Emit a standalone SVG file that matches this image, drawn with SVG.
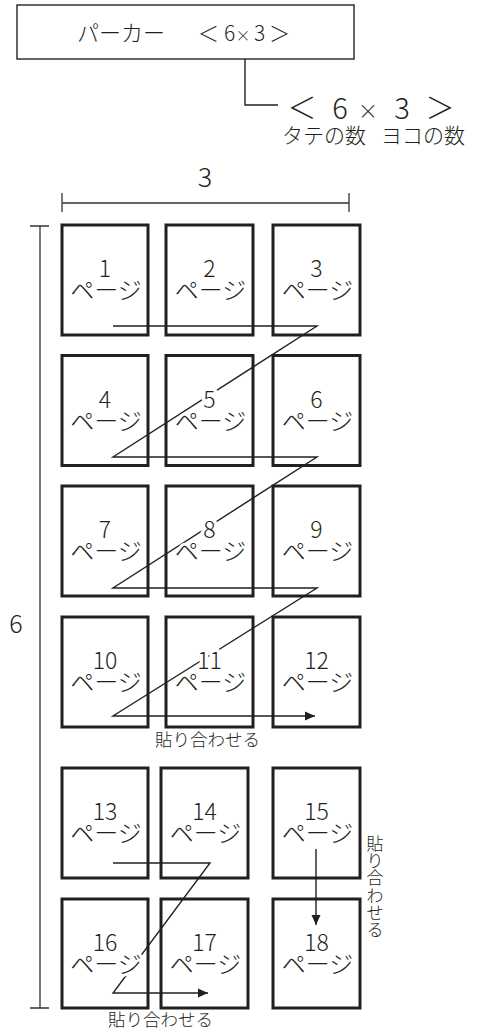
<svg xmlns="http://www.w3.org/2000/svg" width="483" height="1031" viewBox="0 0 483 1031">
<style>
.jp{font-family:"Noto Sans CJK JP","Noto Sans",sans-serif;fill:#231f20;font-weight:300}
.pg{fill:none;stroke:#231f20;stroke-width:3}
.ln{fill:none;stroke:#231f20;stroke-width:1.4}
.dim{fill:none;stroke:#333;stroke-width:1.3}
.lbl{text-anchor:middle;paint-order:stroke;stroke:#fff;stroke-linejoin:round}
.n{font-size:23px;stroke-width:7}
.p{font-size:24px;stroke-width:6}
.mid{text-anchor:middle}
</style>
<defs>
<marker id="ah" markerUnits="userSpaceOnUse" markerWidth="12" markerHeight="12" refX="10" refY="5" orient="auto">
<path d="M0,0.5 L10,5 L0,9.5 Z" fill="#231f20"/>
</marker>
</defs>
<g id="title">
<rect x="17" y="5" width="337" height="54" fill="none" stroke="#333" stroke-width="1.5"/>
<text class="jp" x="77" y="41" font-size="22">パーカー</text>
<text class="jp mid" font-size="21" y="41"><tspan x="208.5">＜</tspan><tspan x="229.5">6</tspan><tspan x="243" font-size="15">×</tspan><tspan x="259.5">3</tspan><tspan x="279.5">＞</tspan></text>
</g>
<g id="legend">
<text class="jp mid" font-size="29" y="119"><tspan x="302">＜</tspan><tspan x="340">6</tspan><tspan x="368" font-size="20">×</tspan><tspan x="402">3</tspan><tspan x="440">＞</tspan></text>
<text class="jp" x="282" y="143" font-size="21">タテの数</text>
<text class="jp" x="381" y="143" font-size="21">ヨコの数</text>
</g>
<g id="dimensions">
<path class="dim" d="M62,203 H349 M62,193 V212 M349,193 V212"/>
<text class="jp mid" x="205" y="187" font-size="27">3</text>
<path class="dim" d="M40,226 V1008 M30,226 H49 M30,1008 H49" stroke-width="1.1"/>
<text class="jp mid" x="16" y="633" font-size="25">6</text>
</g>
<g id="connectors">
<path class="ln" d="M245,59 V105 H278"/>
<path class="ln" d="M113,326 H317 L113,457 H317 L113,588 H317 L113,716 H315" marker-end="url(#ah)"/>
<path class="ln" d="M113,863 H210 L113,993 H208" marker-end="url(#ah)"/>
<path class="ln" d="M316,849 V925" marker-end="url(#ah)"/>
<text class="jp" x="155" y="746" font-size="17.5">貼り合わせる</text>
<text class="jp" x="108" y="1026" font-size="17.5">貼り合わせる</text>
<text class="jp mid" font-size="17"><tspan x="375" y="850">貼</tspan><tspan x="375" y="867.2">り</tspan><tspan x="375" y="884.4">合</tspan><tspan x="375" y="901.6">わ</tspan><tspan x="375" y="918.8">せ</tspan><tspan x="375" y="936">る</tspan></text>
</g>
<g id="p1"><rect class="pg" x="62" y="225" width="86" height="110"/><text class="jp lbl"><tspan class="n" x="105" y="277">1</tspan><tspan class="p" x="106" y="299">ページ</tspan></text></g>
<g id="p2"><rect class="pg" x="166" y="225" width="87" height="110"/><text class="jp lbl"><tspan class="n" x="209.5" y="277">2</tspan><tspan class="p" x="210.5" y="299">ページ</tspan></text></g>
<g id="p3"><rect class="pg" x="273" y="225" width="87" height="110"/><text class="jp lbl"><tspan class="n" x="316.5" y="277">3</tspan><tspan class="p" x="317.5" y="299">ページ</tspan></text></g>
<g id="p4"><rect class="pg" x="62" y="355.5" width="86" height="110"/><text class="jp lbl"><tspan class="n" x="105" y="407.5">4</tspan><tspan class="p" x="106" y="429.5">ページ</tspan></text></g>
<g id="p5"><rect class="pg" x="166" y="355.5" width="87" height="110"/><text class="jp lbl"><tspan class="n" x="209.5" y="407.5">5</tspan><tspan class="p" x="210.5" y="429.5">ページ</tspan></text></g>
<g id="p6"><rect class="pg" x="273" y="355.5" width="87" height="110"/><text class="jp lbl"><tspan class="n" x="316.5" y="407.5">6</tspan><tspan class="p" x="317.5" y="429.5">ページ</tspan></text></g>
<g id="p7"><rect class="pg" x="62" y="486" width="86" height="110"/><text class="jp lbl"><tspan class="n" x="105" y="538">7</tspan><tspan class="p" x="106" y="560">ページ</tspan></text></g>
<g id="p8"><rect class="pg" x="166" y="486" width="87" height="110"/><text class="jp lbl"><tspan class="n" x="209.5" y="538">8</tspan><tspan class="p" x="210.5" y="560">ページ</tspan></text></g>
<g id="p9"><rect class="pg" x="273" y="486" width="87" height="110"/><text class="jp lbl"><tspan class="n" x="316.5" y="538">9</tspan><tspan class="p" x="317.5" y="560">ページ</tspan></text></g>
<g id="p10"><rect class="pg" x="62" y="617" width="86" height="110"/><text class="jp lbl"><tspan class="n" x="105" y="669">10</tspan><tspan class="p" x="106" y="691">ページ</tspan></text></g>
<g id="p11"><rect class="pg" x="166" y="617" width="87" height="110"/><text class="jp lbl"><tspan class="n" x="209.5" y="669">11</tspan><tspan class="p" x="210.5" y="691">ページ</tspan></text></g>
<g id="p12"><rect class="pg" x="273" y="617" width="87" height="110"/><text class="jp lbl"><tspan class="n" x="316.5" y="669">12</tspan><tspan class="p" x="317.5" y="691">ページ</tspan></text></g>
<g id="p13"><rect class="pg" x="62" y="768" width="86" height="110"/><text class="jp lbl"><tspan class="n" x="105" y="820">13</tspan><tspan class="p" x="106" y="842">ページ</tspan></text></g>
<g id="p14"><rect class="pg" x="161" y="768" width="87" height="110"/><text class="jp lbl"><tspan class="n" x="204.5" y="820">14</tspan><tspan class="p" x="205.5" y="842">ページ</tspan></text></g>
<g id="p15"><rect class="pg" x="273" y="768" width="87" height="110"/><text class="jp lbl"><tspan class="n" x="316.5" y="820">15</tspan><tspan class="p" x="317.5" y="842">ページ</tspan></text></g>
<g id="p16"><rect class="pg" x="62" y="899" width="86" height="109"/><text class="jp lbl"><tspan class="n" x="105" y="951">16</tspan><tspan class="p" x="106" y="973">ページ</tspan></text></g>
<g id="p17"><rect class="pg" x="161" y="899" width="87" height="109"/><text class="jp lbl"><tspan class="n" x="204.5" y="951">17</tspan><tspan class="p" x="205.5" y="973">ページ</tspan></text></g>
<g id="p18"><rect class="pg" x="273" y="899" width="87" height="109"/><text class="jp lbl"><tspan class="n" x="316.5" y="951">18</tspan><tspan class="p" x="317.5" y="973">ページ</tspan></text></g>
</svg>
